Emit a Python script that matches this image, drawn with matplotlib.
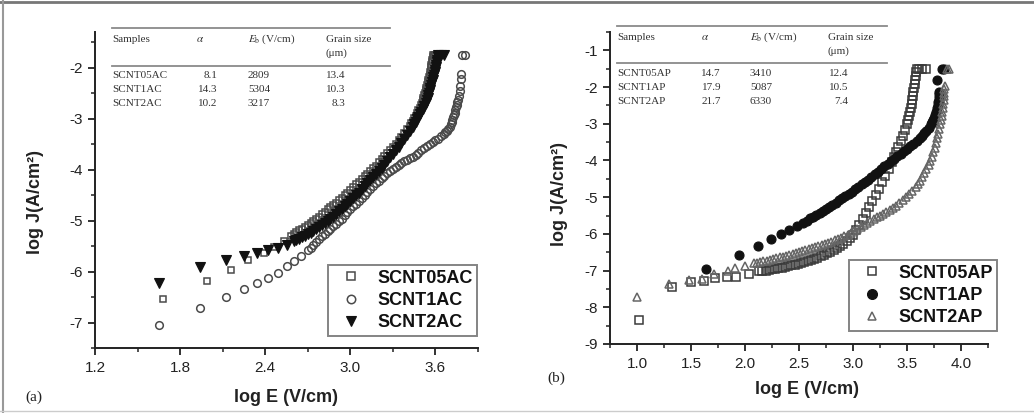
import matplotlib.pyplot as plt
from matplotlib.lines import Line2D

plt.rcParams['font.family'] = ['Liberation Sans', 'DejaVu Sans']
plt.rcParams['mathtext.fontset'] = 'stix'
plt.rcParams['axes.unicode_minus'] = False

W, H = 1034, 413

# ---- panel (a) data: log E (V/cm), log J (A/cm2) ----
a05_x = [1.68, 1.99, 2.16, 2.28, 2.39, 2.46, 2.53, 2.58, 2.60, 2.62, 2.64, 2.66, 2.68, 2.70,
         2.72, 2.74, 2.76, 2.78, 2.80, 2.82, 2.84, 2.86, 2.88, 2.90, 2.92, 2.94, 2.96, 2.98,
         3.00, 3.02, 3.04, 3.06, 3.08, 3.10, 3.12, 3.14, 3.16, 3.18, 3.20, 3.22, 3.24, 3.26,
         3.28, 3.30, 3.32, 3.34, 3.36, 3.38, 3.40, 3.42, 3.43, 3.44, 3.45, 3.46, 3.47, 3.48,
         3.49, 3.50, 3.505, 3.51, 3.515, 3.52, 3.525, 3.53, 3.535, 3.54, 3.545, 3.55, 3.555,
         3.56, 3.563, 3.566, 3.569, 3.572, 3.575, 3.578, 3.58, 3.58, 3.59, 3.60]
a05_y = [-6.53, -6.19, -5.96, -5.77, -5.64, -5.52, -5.41, -5.31, -5.27, -5.23, -5.19, -5.16,
         -5.12, -5.08, -5.04, -5.00, -4.96, -4.92, -4.87, -4.83, -4.78, -4.74, -4.69, -4.65,
         -4.60, -4.55, -4.50, -4.45, -4.40, -4.35, -4.29, -4.24, -4.19, -4.13, -4.08, -4.03,
         -3.97, -3.92, -3.86, -3.80, -3.74, -3.68, -3.62, -3.56, -3.49, -3.42, -3.36, -3.29,
         -3.21, -3.14, -3.09, -3.04, -2.99, -2.94, -2.89, -2.84, -2.79, -2.74, -2.69, -2.64,
         -2.59, -2.54, -2.49, -2.44, -2.39, -2.34, -2.29, -2.24, -2.19, -2.14, -2.09, -2.04,
         -1.99, -1.94, -1.89, -1.84, -1.79, -1.76, -1.76, -1.76]

a1_x = [1.65, 1.94, 2.12, 2.25, 2.34, 2.42, 2.49, 2.55, 2.60, 2.65, 2.70, 2.72, 2.74, 2.76,
        2.78, 2.80, 2.82, 2.84, 2.86, 2.88, 2.90, 2.92, 2.94, 2.96, 2.98, 3.00, 3.02, 3.04,
        3.06, 3.08, 3.10, 3.12, 3.14, 3.16, 3.18, 3.20, 3.22, 3.24, 3.26, 3.28, 3.30, 3.32,
        3.34, 3.36, 3.38, 3.40, 3.42, 3.44, 3.46, 3.48, 3.50, 3.52, 3.54, 3.56, 3.58, 3.60,
        3.62, 3.64, 3.66, 3.67, 3.68, 3.69, 3.70, 3.71, 3.715, 3.72, 3.725, 3.73, 3.735, 3.74,
        3.745, 3.75, 3.755, 3.76, 3.765, 3.77, 3.775, 3.78, 3.78, 3.79, 3.81]
a1_y = [-7.04, -6.72, -6.50, -6.34, -6.23, -6.13, -6.02, -5.90, -5.80, -5.70, -5.58, -5.53,
        -5.48, -5.42, -5.36, -5.31, -5.26, -5.21, -5.16, -5.11, -5.06, -5.01, -4.96, -4.90,
        -4.84, -4.78, -4.72, -4.67, -4.61, -4.55, -4.49, -4.43, -4.38, -4.32, -4.27, -4.22,
        -4.17, -4.12, -4.07, -4.02, -3.98, -3.94, -3.90, -3.87, -3.84, -3.81, -3.78, -3.75,
        -3.71, -3.67, -3.62, -3.57, -3.53, -3.49, -3.46, -3.42, -3.39, -3.35, -3.30, -3.27,
        -3.24, -3.20, -3.16, -3.11, -3.06, -3.02, -2.97, -2.93, -2.88, -2.83, -2.78, -2.73,
        -2.68, -2.63, -2.55, -2.45, -2.35, -2.23, -2.12, -1.76, -1.76]

a2_x = [1.65, 1.94, 2.12, 2.25, 2.34, 2.42, 2.49, 2.55, 2.60, 2.62, 2.64, 2.66, 2.68, 2.70,
        2.72, 2.74, 2.76, 2.78, 2.80, 2.82, 2.84, 2.86, 2.88, 2.90, 2.92, 2.94, 2.96, 2.98,
        3.00, 3.02, 3.04, 3.06, 3.08, 3.10, 3.12, 3.14, 3.16, 3.18, 3.20, 3.22, 3.24, 3.26,
        3.28, 3.30, 3.32, 3.34, 3.36, 3.38, 3.40, 3.42, 3.44, 3.45, 3.46, 3.47, 3.48, 3.49,
        3.50, 3.51, 3.52, 3.53, 3.54, 3.545, 3.55, 3.555, 3.56, 3.565, 3.57, 3.575, 3.58,
        3.585, 3.59, 3.595, 3.60, 3.603, 3.606, 3.609, 3.612, 3.615, 3.62, 3.64, 3.66]
a2_y = [-6.22, -5.92, -5.78, -5.69, -5.63, -5.58, -5.53, -5.47, -5.41, -5.38, -5.36, -5.33,
        -5.30, -5.27, -5.24, -5.21, -5.17, -5.13, -5.09, -5.05, -5.01, -4.96, -4.92, -4.87,
        -4.82, -4.77, -4.72, -4.67, -4.61, -4.56, -4.50, -4.45, -4.39, -4.33, -4.27, -4.21,
        -4.15, -4.09, -4.03, -3.96, -3.90, -3.83, -3.76, -3.69, -3.62, -3.55, -3.47, -3.40,
        -3.32, -3.24, -3.16, -3.11, -3.06, -3.01, -2.96, -2.91, -2.86, -2.81, -2.75, -2.70,
        -2.64, -2.59, -2.54, -2.49, -2.44, -2.39, -2.34, -2.29, -2.24, -2.19, -2.14, -2.09,
        -2.04, -1.99, -1.94, -1.89, -1.84, -1.80, -1.76, -1.76, -1.76]

# ---- panel (b) data ----
b05_x = [1.02, 1.32, 1.50, 1.62, 1.72, 1.83, 1.92, 2.04, 2.13, 2.16, 2.19, 2.22, 2.25, 2.28,
         2.31, 2.34, 2.37, 2.40, 2.43, 2.46, 2.49, 2.52, 2.55, 2.58, 2.61, 2.64, 2.67, 2.70,
         2.73, 2.76, 2.79, 2.82, 2.85, 2.88, 2.91, 2.94, 2.97, 3.00, 3.03, 3.06, 3.09, 3.12,
         3.15, 3.18, 3.21, 3.24, 3.27, 3.30, 3.33, 3.36, 3.38, 3.40, 3.42, 3.44, 3.46, 3.48,
         3.50, 3.51, 3.52, 3.53, 3.54, 3.545, 3.55, 3.555, 3.56, 3.565, 3.57, 3.575, 3.58,
         3.585, 3.59, 3.61, 3.64, 3.68]
b05_y = [-8.35, -7.46, -7.32, -7.29, -7.21, -7.17, -7.18, -7.10, -7.02, -7.01, -7.00, -6.98,
         -6.97, -6.95, -6.94, -6.92, -6.90, -6.88, -6.86, -6.84, -6.82, -6.80, -6.77, -6.74,
         -6.71, -6.68, -6.65, -6.61, -6.57, -6.53, -6.49, -6.44, -6.39, -6.33, -6.27, -6.20,
         -6.12, -6.03, -5.90, -5.75, -5.60, -5.44, -5.28, -5.11, -4.94, -4.77, -4.59, -4.41,
         -4.22, -4.03, -3.90, -3.76, -3.62, -3.47, -3.32, -3.16, -3.00, -2.90, -2.80, -2.69,
         -2.58, -2.47, -2.36, -2.25, -2.14, -2.03, -1.92, -1.81, -1.70, -1.60, -1.52, -1.52,
         -1.52, -1.52]

b1_x = [1.64, 1.94, 2.12, 2.24, 2.33, 2.41, 2.48, 2.54, 2.57, 2.60, 2.63, 2.66, 2.69, 2.72,
        2.75, 2.78, 2.81, 2.84, 2.87, 2.90, 2.93, 2.96, 2.99, 3.02, 3.05, 3.08, 3.11, 3.14,
        3.17, 3.20, 3.23, 3.26, 3.29, 3.32, 3.35, 3.38, 3.41, 3.44, 3.47, 3.50, 3.53, 3.56,
        3.59, 3.62, 3.64, 3.66, 3.68, 3.70, 3.72, 3.73, 3.74, 3.75, 3.76, 3.77, 3.78, 3.785,
        3.79, 3.795, 3.80, 3.80, 3.80, 3.78, 3.82, 3.84]
b1_y = [-6.97, -6.57, -6.33, -6.15, -6.01, -5.90, -5.79, -5.69, -5.64, -5.58, -5.53, -5.48,
        -5.43, -5.38, -5.32, -5.26, -5.21, -5.15, -5.09, -5.03, -4.97, -4.91, -4.85, -4.79,
        -4.72, -4.65, -4.58, -4.52, -4.45, -4.38, -4.31, -4.24, -4.16, -4.09, -4.01, -3.95,
        -3.88, -3.82, -3.75, -3.68, -3.61, -3.54, -3.46, -3.38, -3.32, -3.26, -3.19, -3.11,
        -3.02, -2.96, -2.90, -2.83, -2.75, -2.67, -2.58, -2.50, -2.42, -2.34, -2.27, -2.20,
        -2.13, -1.82, -1.52, -1.52]

b2_x = [1.00, 1.30, 1.48, 1.60, 1.71, 1.84, 1.91, 2.00, 2.08, 2.11, 2.14, 2.17, 2.20, 2.23,
        2.26, 2.29, 2.32, 2.35, 2.38, 2.41, 2.44, 2.47, 2.50, 2.53, 2.56, 2.59, 2.62, 2.65,
        2.68, 2.71, 2.74, 2.77, 2.80, 2.83, 2.86, 2.89, 2.92, 2.95, 2.98, 3.01, 3.04, 3.07,
        3.10, 3.13, 3.16, 3.19, 3.22, 3.25, 3.28, 3.31, 3.34, 3.37, 3.40, 3.43, 3.46, 3.49,
        3.52, 3.55, 3.58, 3.60, 3.62, 3.64, 3.66, 3.68, 3.70, 3.715, 3.73, 3.745, 3.76, 3.77,
        3.78, 3.79, 3.80, 3.81, 3.815, 3.82, 3.825, 3.83, 3.835, 3.84, 3.84, 3.845, 3.845,
        3.85, 3.87, 3.89]
b2_y = [-7.71, -7.37, -7.26, -7.24, -7.08, -7.01, -6.94, -6.88, -6.80, -6.78, -6.77, -6.75,
        -6.73, -6.71, -6.69, -6.66, -6.64, -6.62, -6.59, -6.57, -6.54, -6.52, -6.49, -6.47,
        -6.44, -6.42, -6.39, -6.36, -6.34, -6.31, -6.28, -6.25, -6.22, -6.18, -6.15, -6.11,
        -6.07, -6.02, -5.97, -5.92, -5.86, -5.80, -5.75, -5.70, -5.65, -5.60, -5.55, -5.50,
        -5.45, -5.40, -5.35, -5.30, -5.25, -5.17, -5.09, -5.00, -4.91, -4.82, -4.71, -4.63,
        -4.55, -4.45, -4.35, -4.24, -4.13, -4.02, -3.90, -3.78, -3.65, -3.53, -3.40, -3.28,
        -3.15, -3.02, -2.90, -2.79, -2.68, -2.57, -2.45, -2.35, -2.25, -2.15, -2.05, -1.96,
        -1.52, -1.52]

# ---- inset tables ----
table_head = ['Samples', r'$\alpha$', r'$E_\mathrm{b}$ (V/cm)', 'Grain size']
samples_a = ['SCNT05AC', 'SCNT1AC', 'SCNT2AC']
alpha_a = ['8.1', '14.3', '10.2']
eb_a = ['2809', '5304', '3217']
grain_a = ['13.4', '10.3', '8.3']
samples_b = ['SCNT05AP', 'SCNT1AP', 'SCNT2AP']
alpha_b = ['14.7', '17.9', '21.7']
eb_b = ['3410', '5087', '6330']
grain_b = ['12.4', '10.5', '7.4']

fig = plt.figure(figsize=(W / 100, H / 100), dpi=100)
ax_a = fig.add_axes([95 / W, 1 - 348 / H, (478 - 95) / W, (348 - 32) / H])
ax_b = fig.add_axes([610 / W, 1 - 344 / H, (988 - 610) / W, (344 - 32) / H])


def px(x, y):
    return x / W, 1 - y / H


def style_axes(ax):
    for s in ['top', 'right']:
        ax.spines[s].set_visible(False)
    for s in ['left', 'bottom']:
        ax.spines[s].set_linewidth(1.4)
        ax.spines[s].set_color('#222222')
    ax.tick_params(which='major', direction='out', length=5, width=1.3,
                   labelsize=11, colors='#222222', pad=4)
    ax.tick_params(which='minor', direction='out', length=3, width=1.1, colors='#222222')


mk = dict(linestyle='none')
ax_a.plot(a05_x, a05_y, marker='s', ms=5, mfc='none', mec='#4a4a4a', mew=1.1,
          label='SCNT05AC', **mk)
ax_a.plot(a1_x, a1_y, marker='o', ms=5.5, mfc='none', mec='#4a4a4a', mew=1.1,
          label='SCNT1AC', **mk)
ax_a.plot(a2_x, a2_y, marker='v', ms=6.5, mfc='#111111', mec='#111111', mew=0.8,
          label='SCNT2AC', **mk)

ax_b.plot(b05_x, b05_y, marker='s', ms=5.5, mfc='none', mec='#3a3a3a', mew=1.1,
          label='SCNT05AP', **mk)
ax_b.plot(b1_x, b1_y, marker='o', ms=6.5, mfc='#111111', mec='#111111', mew=0.8,
          label='SCNT1AP', **mk)
ax_b.plot(b2_x, b2_y, marker='^', ms=5.5, mfc='none', mec='#666666', mew=1.1,
          label='SCNT2AP', **mk)

ax_a.set_xlim(1.2, 3.9)
ax_a.set_ylim(-7.5, -1.3)
ax_a.set_xticks([1.2, 1.8, 2.4, 3.0, 3.6])
ax_a.set_xticks([1.5, 2.1, 2.7, 3.3, 3.9], minor=True)
ax_a.set_yticks([-7, -6, -5, -4, -3, -2])
ax_a.set_yticks([-7.5, -6.5, -5.5, -4.5, -3.5, -2.5, -1.5], minor=True)

ax_b.set_xlim(0.75, 4.25)
ax_b.set_ylim(-9, -0.5)
ax_b.set_xticks([1.0, 1.5, 2.0, 2.5, 3.0, 3.5, 4.0])
ax_b.set_xticks([0.75, 1.25, 1.75, 2.25, 2.75, 3.25, 3.75, 4.25], minor=True)
ax_b.set_yticks(range(-9, 0))
ax_b.set_yticks([-8.5, -7.5, -6.5, -5.5, -4.5, -3.5, -2.5, -1.5, -0.5], minor=True)

for ax in (ax_a, ax_b):
    style_axes(ax)

lab = dict(fontsize=13, fontweight='bold', color='#222222')
ax_a.set_xlabel('log E (V/cm)', va='center', **lab)
ax_a.xaxis.set_label_coords(0.5, -(397 - 348) / 316)
ax_a.set_ylabel('log J(A/cm²)', va='center', **lab)
ax_a.yaxis.set_label_coords((36 - 95) / 383, (348 - 202) / 316)
ax_b.set_xlabel('log E (V/cm)', va='center', **lab)
ax_b.xaxis.set_label_coords((807 - 610) / 378, -(390 - 344) / 312)
ax_b.set_ylabel('log J(A/cm²)', va='center', **lab)
ax_b.yaxis.set_label_coords((560 - 610) / 378, (344 - 194) / 312)

leg_kw = dict(loc='lower right', borderaxespad=0, fancybox=False, frameon=True,
              prop={'weight': 'bold', 'size': 13}, handlelength=2.05,
              handletextpad=0.42, borderpad=0.25, labelspacing=0.3, markerscale=1.1)
la = ax_a.legend(bbox_to_anchor=((477 - 95) / 383, (348 - 336) / 316), **leg_kw)
lb = ax_b.legend(bbox_to_anchor=((997 - 610) / 378, (344 - 331) / 312), **leg_kw)
for lg in (la, lb):
    lg.get_frame().set_edgecolor('#666666')
    lg.get_frame().set_linewidth(1.4)
    for t in lg.get_texts():
        t.set_color('#111111')


def draw_table(x0, x1, ytop, yhead, colx, num_right, names, alphas, ebs, grains):
    tc = '#333333'
    serif = ['Liberation Serif', 'DejaVu Serif']
    for yy in (ytop, yhead):
        fig.add_artist(Line2D([x0 / W, x1 / W], [1 - yy / H, 1 - yy / H],
                              color='#8a8a8a', lw=1.3))
    hy = ytop + 11
    for txt, cx in zip(table_head, colx):
        fig.text(*px(cx, hy), txt, fontsize=8, family=serif, color=tc, va='center')
    fig.text(*px(colx[3], hy + 14), '(μm)', fontsize=8, family=serif, color=tc,
             va='center')
    for i in range(3):
        ry = yhead + 10 + 14 * i
        fig.text(*px(colx[0], ry), names[i], fontsize=8, family=serif, color=tc,
                 va='center')
        fig.text(*px(num_right[0], ry), alphas[i], fontsize=8, family=serif, color=tc,
                 va='center', ha='right')
        fig.text(*px(colx[2], ry), ebs[i], fontsize=8, family=serif, color=tc,
                 va='center')
        fig.text(*px(num_right[1], ry), grains[i], fontsize=8, family=serif, color=tc,
                 va='center', ha='right')


draw_table(112, 390, 28, 66, [112, 196, 248, 326], [217, 345],
           samples_a, alpha_a, eb_a, grain_a)
draw_table(617, 887, 26, 63, [617, 701, 750, 828], [721, 848],
           samples_b, alpha_b, eb_b, grain_b)

fig.text(*px(25, 397), '(a)', fontsize=11, family=['Liberation Serif'], color='#222222',
         va='center')
fig.text(*px(547, 378), '(b)', fontsize=11, family=['Liberation Serif'], color='#222222',
         va='center')

# outer frame of the figure
fig.add_artist(Line2D([0, 1], [1 - 2 / H, 1 - 2 / H], color='#777777', lw=2))
fig.add_artist(Line2D([3 / W, 3 / W], [0, 1], color='#999999', lw=1.5))
fig.add_artist(Line2D([0, 1], [1 - 411 / H, 1 - 411 / H], color='#cccccc', lw=1))

fig.savefig('out.png', dpi=100)
